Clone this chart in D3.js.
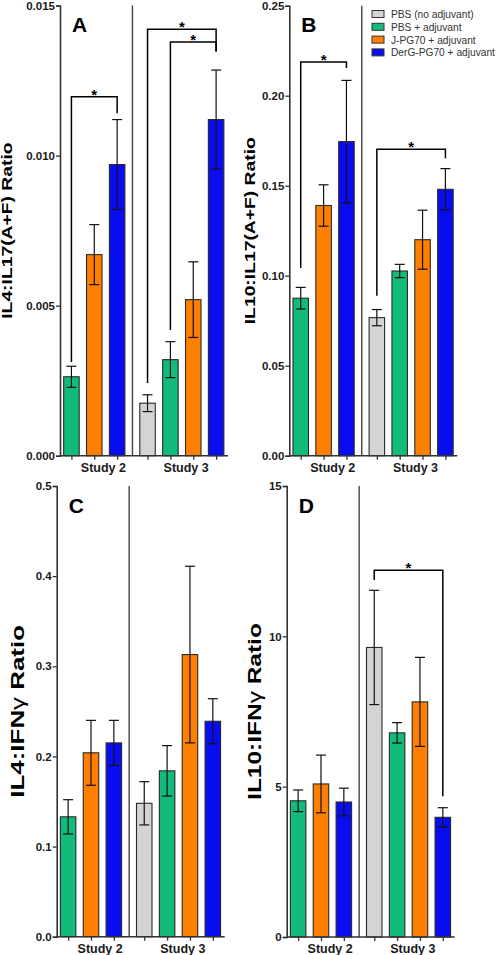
<!DOCTYPE html>
<html>
<head>
<meta charset="utf-8">
<script src="https://cdn.jsdelivr.net/npm/d3@7"></script>
<style>
  html, body { margin: 0; padding: 0; background: #fff; }
  svg { display: block; font-family: "Liberation Sans", Arial, sans-serif; }
</style>
</head>
<body>
<svg id="chart" width="497" height="955"></svg>
<script>
// ---------------- DATA ----------------
const studies = ["Study 2", "Study 3"];
const groups = ["PBS (no adjuvant)", "PBS + adjuvant", "J-PG70 + adjuvant", "DerG-PG70 + adjuvant"];
const groupColors = ["#d4d4d4", "#12bb7a", "#ff7f00", "#0a0cf0"];

// rows: [Study 2, Study 3]; columns follow `groups` (null = not tested)
const il4il17Mean  = [[null, 0.00263, 0.0067, 0.0097], [0.00175, 0.0032, 0.0052, 0.0112]];
const il4il17Err   = [[null, 0.00035, 0.0010, 0.0015], [0.00028, 0.0006, 0.00126, 0.00165]];
const il10il17Mean = [[null, 0.0875, 0.139, 0.1745], [0.0767, 0.1026, 0.120, 0.148]];
const il10il17Err  = [[null, 0.006, 0.0115, 0.034], [0.0045, 0.0037, 0.0164, 0.0115]];
const il4ifnMean   = [[null, 0.133, 0.204, 0.215], [0.148, 0.184, 0.313, 0.239]];
const il4ifnErr    = [[null, 0.019, 0.036, 0.025], [0.024, 0.028, 0.098, 0.025]];
const il10ifnMean  = [[null, 4.53, 5.09, 4.49], [9.63, 6.79, 7.82, 3.98]];
const il10ifnErr   = [[null, 0.36, 0.96, 0.46], [1.90, 0.34, 1.48, 0.32]];

const ticksA = [0, 0.005, 0.010, 0.015];
const ticksB = [0, 0.05, 0.10, 0.15, 0.20, 0.25];
const ticksC = [0, 0.1, 0.2, 0.3, 0.4, 0.5];
const ticksD = [0, 5, 10, 15];

// significance brackets: [study, fromGroup, toGroup, bracketLevel, leftLegEnd, rightLegEnd]
const sigA = [[0, 1, 3, 0.01196, 0.00312, 0.01141],
              [1, 0, 3, 0.01421, 0.00242, 0.01347],
              [1, 1, 3, 0.01378, 0.00419, 0.01347]];
const sigB = [[0, 1, 3, 0.2187, 0.1043, 0.2154],
              [1, 0, 3, 0.1702, 0.0889, 0.1652]];
const sigC = [];
const sigD = [[1, 0, 3, 12.2, 11.87, 4.68]];

// ---------------- LAYOUT ----------------
const panels = [
  { letter: "A", title: ["IL4:IL17(A+F) Ratio"], mean: il4il17Mean, err: il4il17Err, ticks: ticksA, fmt: d3.format(".3f"), sig: sigA,
    x0: 60, y0: 455.7, yt: 5.5, titleX: 7.5, titleSize: 13.8 },
  { letter: "B", title: ["IL10:IL17(A+F) Ratio"], mean: il10il17Mean, err: il10il17Err, ticks: ticksB, fmt: d3.format(".2f"), sig: sigB,
    x0: 289.3, y0: 455.7, yt: 5.7, titleX: 250.5, titleSize: 13.8 },
  { letter: "C", title: ["IL4:IFN", "γ", " Ratio"], mean: il4ifnMean, err: il4ifnErr, ticks: ticksC, fmt: d3.format(".1f"), sig: sigC,
    x0: 56.7, y0: 936.7, yt: 486, titleX: 17.5, titleSize: 18.5 },
  { letter: "D", title: ["IL10:IFN", "γ", " Ratio"], mean: il10ifnMean, err: il10ifnErr, ticks: ticksD, fmt: d3.format("d"), sig: sigD,
    x0: 286.7, y0: 937, yt: 486, titleX: 255.5, titleSize: 17.5 }
];

const svg = d3.select("#chart");
const slotPos = (s, g) => s === 0 ? g - 1 : 3.33 + g;   // slot index
const sepPos = 2.67;
const labelPos = [1.4, 5.02];
const barW = 15.5;
const axisColor = "#333";

panels.forEach(p => {
  const g = svg.append("g");
  const x = d3.scaleLinear().domain([-0.5, 6.85]).range([p.x0, p.x0 + 168]);
  const dmax = p.ticks[p.ticks.length - 1];
  const y = d3.scaleLinear().domain([0, dmax]).range([p.y0, p.yt]);

  // separator line between studies
  g.append("line")
    .attr("x1", x(sepPos)).attr("x2", x(sepPos))
    .attr("y1", y(dmax)).attr("y2", y(0))
    .attr("stroke", "#444").attr("stroke-width", 1.4);

  // bars
  const flat = [];
  p.mean.forEach((row, s) => row.forEach((m, gi) => {
    if (m !== null) flat.push({ s, gi, m, e: p.err[s][gi] });
  }));
  g.selectAll("rect.bar").data(flat).join("rect")
    .attr("class", "bar")
    .attr("x", d => x(slotPos(d.s, d.gi)) - barW / 2)
    .attr("width", barW)
    .attr("y", d => y(d.m))
    .attr("height", d => y(0) - y(d.m))
    .attr("fill", d => groupColors[d.gi])
    .attr("stroke", "#2a2a2a").attr("stroke-width", 1.1);

  // error bars
  const eb = g.selectAll("g.eb").data(flat).join("g").attr("class", "eb")
    .attr("stroke", "#111").attr("stroke-width", 1.2);
  eb.append("line")
    .attr("x1", d => x(slotPos(d.s, d.gi))).attr("x2", d => x(slotPos(d.s, d.gi)))
    .attr("y1", d => y(d.m + d.e)).attr("y2", d => y(d.m - d.e));
  [1, -1].forEach(sign => {
    eb.append("line")
      .attr("x1", d => x(slotPos(d.s, d.gi)) - 5).attr("x2", d => x(slotPos(d.s, d.gi)) + 5)
      .attr("y1", d => y(d.m + sign * d.e)).attr("y2", d => y(d.m + sign * d.e));
  });

  // y axis
  const yAxis = d3.axisLeft(y).tickValues(p.ticks).tickFormat(p.fmt).tickSize(4).tickPadding(1);
  const ya = g.append("g").attr("transform", `translate(${p.x0},0)`).call(yAxis);
  ya.select(".domain").attr("stroke", axisColor).attr("stroke-width", 1.6);
  ya.selectAll(".tick line").attr("stroke", axisColor).attr("stroke-width", 1.3);
  ya.selectAll(".tick text").attr("font-size", 11.5).attr("font-weight", "bold").attr("fill", "#1a1a1a")
    .attr("font-family", "'Liberation Sans', Arial, sans-serif");

  // x axis: ticks at bar centres
  const xticks = flat.map(d => slotPos(d.s, d.gi));
  const xAxis = d3.axisBottom(x).tickValues(xticks).tickFormat("").tickSize(4).tickSizeOuter(0);
  const xa = g.append("g").attr("transform", `translate(0,${p.y0})`).call(xAxis);
  xa.select(".domain").attr("stroke", axisColor).attr("stroke-width", 1.6)
    .attr("d", `M${p.x0},0H${p.x0 + 168}`);
  xa.selectAll(".tick line").attr("stroke", axisColor).attr("stroke-width", 1.3);

  // study labels
  g.selectAll("text.study").data(studies).join("text")
    .attr("class", "study")
    .attr("x", (d, i) => x(labelPos[i]))
    .attr("y", p.y0 + 16)
    .attr("text-anchor", "middle")
    .attr("font-size", 12.5).attr("font-weight", "bold").attr("fill", "#1a1a1a")
    .text(d => d);

  // panel letter
  g.append("text")
    .attr("x", p.x0 + 12).attr("y", p.yt + 26.5)
    .attr("font-size", 21).attr("font-weight", "bold").attr("fill", "#000")
    .text(p.letter);

  // y title (stretched lengthwise like the reference)
  const ymid = (p.y0 + p.yt) / 2;
  const t = g.append("text")
    .attr("transform", `translate(${p.titleX},${ymid}) rotate(-90) scale(1.4,1)`)
    .attr("text-anchor", "middle")
    .attr("dominant-baseline", "central")
    .attr("font-size", p.titleSize).attr("font-weight", "bold").attr("fill", "#000");
  p.title.forEach(part => {
    const ts = t.append("tspan").text(part);
    if (part === "γ") ts.attr("font-weight", "normal");
  });

  // significance brackets
  p.sig.forEach(b => {
    const [s, ga, gb, lvl, le, re] = b;
    const xl = x(slotPos(s, ga)), xr = x(slotPos(s, gb));
    g.append("path")
      .attr("d", `M${xl},${y(le)}V${y(lvl)}H${xr}V${y(re)}`)
      .attr("fill", "none").attr("stroke", "#000").attr("stroke-width", 1.5);
    g.append("text")
      .attr("x", (xl + xr) / 2).attr("y", y(lvl) + 3)
      .attr("text-anchor", "middle").attr("font-size", 15).attr("font-weight", "bold")
      .text("*");
  });
});

// ---------------- LEGEND ----------------
const leg = svg.append("g").attr("transform", "translate(372,0)");
const legRows = leg.selectAll("g").data(groups).join("g")
  .attr("transform", (d, i) => `translate(0,${14 + i * 12.8})`);
legRows.append("rect")
  .attr("x", 0).attr("y", -3.5).attr("width", 12).attr("height", 7)
  .attr("fill", (d, i) => groupColors[i]).attr("stroke", "#333").attr("stroke-width", 1);
legRows.append("text")
  .attr("x", 19).attr("y", 4)
  .attr("font-size", 10.2).attr("fill", "#333")
  .text(d => d);
</script>
</body>
</html>
